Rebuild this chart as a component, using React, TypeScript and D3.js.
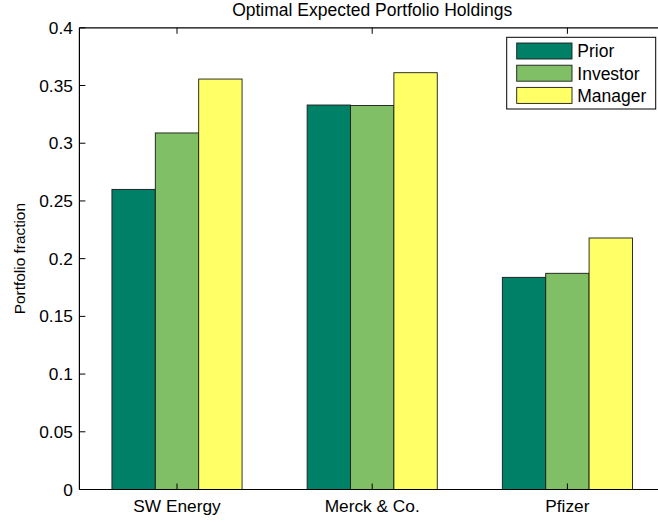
import React from "react";
import * as d3 from "d3";

const categories = ["SW Energy", "Merck & Co.", "Pfizer"];
const seriesNames = ["Prior", "Investor", "Manager"];
const prior = [0.26, 0.3331, 0.1838];
const investor = [0.3089, 0.3327, 0.1873];
const manager = [0.3556, 0.3611, 0.2179];
const yTicks = [0, 0.05, 0.1, 0.15, 0.2, 0.25, 0.3, 0.35, 0.4];
const colors = ["#008066", "#80BF66", "#FFFF66"];
const title = "Optimal Expected Portfolio Holdings";
const yLabel = "Portfolio fraction";

const W = 658;
const H = 522;
const FONT = "'Liberation Sans', Arial, Helvetica, sans-serif";

export default function App() {
  const series = [prior, investor, manager];
  const x = d3.scaleLinear().domain([0.5, 3.5]).range([79.4, 665]);
  const y = d3.scaleLinear().domain([0, 0.4]).range([489.5, 27.8]);
  const barW = 0.2222;
  const offsets = [-barW, 0, barW];
  const left = x(0.5);
  const right = x(3.5);
  const top = y(0.4);
  const bottom = y(0);
  const tickLen = 6;

  return (
    <svg
      width={W}
      height={H}
      style={{ position: "absolute", left: 0, top: 0, background: "#fff" }}
      fontFamily={FONT}
    >
      <rect x={0} y={0} width={W} height={H} fill="#fff" />
      {/* bars */}
      {series.map((vals, si) =>
        vals.map((v, ci) => {
          const cx = ci + 1 + offsets[si];
          const x0 = x(cx - barW / 2);
          const x1 = x(cx + barW / 2);
          return (
            <rect
              key={`${si}-${ci}`}
              x={x0}
              y={y(v)}
              width={x1 - x0}
              height={y(0) - y(v)}
              fill={colors[si]}
              stroke="#1a1a1a"
              strokeWidth={0.9}
            />
          );
        })
      )}
      {/* axes box */}
      <line x1={left} x2={right} y1={bottom} y2={bottom} stroke="#000" strokeWidth={1.2} />
      <line x1={left} x2={right} y1={top} y2={top} stroke="#000" strokeWidth={1.2} />
      <line x1={left} x2={left} y1={top} y2={bottom} stroke="#000" strokeWidth={1.2} />
      <line x1={right} x2={right} y1={top} y2={bottom} stroke="#000" strokeWidth={1.2} />
      {/* y ticks */}
      {yTicks.map((t) => (
        <g key={t}>
          <line x1={left} x2={left + tickLen} y1={y(t)} y2={y(t)} stroke="#000" strokeWidth={1} />
          <line x1={right} x2={right - tickLen} y1={y(t)} y2={y(t)} stroke="#000" strokeWidth={1} />
          <text
            x={left - 6.5}
            y={y(t) + 1.5}
            textAnchor="end"
            dominantBaseline="middle"
            fontSize={17.3}
            fill="#000"
          >
            {String(t)}
          </text>
        </g>
      ))}
      {/* x ticks */}
      {categories.map((c, i) => (
        <g key={c}>
          <line x1={x(i + 1)} x2={x(i + 1)} y1={bottom} y2={bottom - tickLen} stroke="#000" strokeWidth={1} />
          <line x1={x(i + 1)} x2={x(i + 1)} y1={top} y2={top + tickLen} stroke="#000" strokeWidth={1} />
          <text x={x(i + 1)} y={512} textAnchor="middle" fontSize={17.3} fill="#000">
            {c}
          </text>
        </g>
      ))}
      {/* title */}
      <text x={(left + right) / 2} y={16} textAnchor="middle" fontSize={17.5} fill="#000">
        {title}
      </text>
      {/* y label */}
      <text
        transform={`translate(25, ${(top + bottom) / 2}) rotate(-90)`}
        textAnchor="middle"
        fontSize={15.4}
        fill="#000"
      >
        {yLabel}
      </text>
      {/* legend */}
      <rect x={506.7} y={37.3} width={149} height={71.7} fill="#fff" stroke="#000" strokeWidth={1} />
      {seriesNames.map((n, i) => {
        const cy = 51 + i * 22.2;
        return (
          <g key={n}>
            <rect x={516.7} y={cy - 8} width={55.3} height={16} fill={colors[i]} stroke="#1a1a1a" strokeWidth={0.9} />
            <text x={577.3} y={cy + 6.3} fontSize={17.5} fill="#000">
              {n}
            </text>
          </g>
        );
      })}
    </svg>
  );
}
